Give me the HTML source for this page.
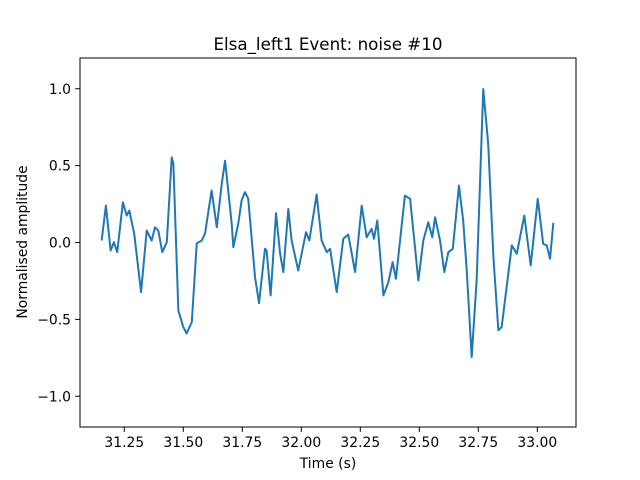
<!DOCTYPE html>
<html><head><meta charset="utf-8"><style>
html,body{margin:0;padding:0;background:#fff;}
svg{display:block;font-family:"DejaVu Sans","Liberation Sans",sans-serif;}
</style></head><body>
<svg id="chart" width="640" height="480" viewBox="0 0 640 480">
<rect width="640" height="480" fill="#fff"/>
<text x="328" y="50" font-size="16.7" text-anchor="middle" fill="#000">Elsa_left1 Event: noise #10</text>
<g id="plot"></g>
<g id="axes"></g>
<text x="328" y="468" font-size="13.9" text-anchor="middle">Time (s)</text>
<text transform="translate(27,242) rotate(-90)" font-size="13.9" text-anchor="middle">Normalised amplitude</text>
</svg>
<script>
const times = [31.154,31.172,31.192,31.206,31.220,31.244,31.260,31.271,31.292,31.321,31.345,31.366,31.380,31.394,31.411,31.430,31.451,31.458,31.479,31.500,31.514,31.536,31.557,31.578,31.592,31.620,31.642,31.663,31.677,31.705,31.712,31.733,31.747,31.761,31.775,31.804,31.821,31.846,31.853,31.870,31.893,31.910,31.924,31.945,31.959,31.987,32.020,32.034,32.065,32.086,32.108,32.122,32.150,32.178,32.199,32.228,32.256,32.277,32.298,32.308,32.322,32.348,32.369,32.387,32.401,32.439,32.461,32.496,32.517,32.538,32.555,32.567,32.588,32.606,32.623,32.642,32.668,32.686,32.701,32.722,32.743,32.771,32.792,32.814,32.835,32.849,32.870,32.892,32.913,32.945,32.972,33.002,33.025,33.040,33.054,33.068];
const amplitudes = [0.013,0.24,-0.052,0.002,-0.063,0.262,0.175,0.208,0.058,-0.323,0.078,0.013,0.099,0.078,-0.063,0.002,0.554,0.513,-0.442,-0.55,-0.591,-0.518,-0.006,0.013,0.058,0.338,0.099,0.383,0.532,0.123,-0.03,0.123,0.273,0.327,0.286,-0.225,-0.394,-0.041,-0.052,-0.344,0.190,-0.071,-0.192,0.218,0.013,-0.182,0.067,0.013,0.312,0.013,-0.063,-0.041,-0.323,0.024,0.052,-0.192,0.240,0.034,0.089,0.024,0.143,-0.344,-0.258,-0.128,-0.236,0.305,0.284,-0.247,0.013,0.132,0.034,0.164,0.013,-0.193,-0.063,-0.041,0.370,0.143,-0.182,-0.745,-0.247,0.998,0.641,-0.095,-0.571,-0.550,-0.290,-0.019,-0.073,0.175,-0.149,0.284,-0.009,-0.019,-0.106,0.128];
const xTicks = [31.25,31.5,31.75,32.0,32.25,32.5,32.75,33.0];
const xTickLabels = ["31.25","31.50","31.75","32.00","32.25","32.50","32.75","33.00"];
const yTicks = [-1.0,-0.5,0.0,0.5,1.0];
const yTickLabels = ["\u22121.0","\u22120.5","0.0","0.5","1.0"];

const L=80,R=576,T=58,B=427;
const xMin=31.0623,xMax=33.164,yMin=-1.2,yMax=1.2;
function xs(t){return L+(t-xMin)/(xMax-xMin)*(R-L);}
function ys(a){return B-(a-yMin)/(yMax-yMin)*(B-T);}
const NS="http://www.w3.org/2000/svg";
const plot=document.getElementById('plot');
const axes=document.getElementById('axes');
let d='';
for(let i=0;i<times.length;i++){d+=(i?'L':'M')+xs(times[i]).toFixed(2)+','+ys(amplitudes[i]).toFixed(2);}
const line=document.createElementNS(NS,'path');
line.setAttribute('d',d);
line.setAttribute('fill','none');
line.setAttribute('stroke','#1f77b4');
line.setAttribute('stroke-width','2');
line.setAttribute('stroke-linejoin','round');


plot.appendChild(line);
const frame=document.createElementNS(NS,'rect');
frame.setAttribute('x',L);frame.setAttribute('y',T);frame.setAttribute('width',R-L);frame.setAttribute('height',B-T);
frame.setAttribute('fill','none');frame.setAttribute('stroke','#000');frame.setAttribute('stroke-width','1');


axes.appendChild(frame);
xTicks.forEach((v,i)=>{
  const x=xs(v);
  const tk=document.createElementNS(NS,'line');
  tk.setAttribute('x1',x);tk.setAttribute('x2',x);tk.setAttribute('y1',B);tk.setAttribute('y2',B+4.9);
  tk.setAttribute('stroke','#000');tk.setAttribute('stroke-width','1');
  
  
  axes.appendChild(tk);
  const tx=document.createElementNS(NS,'text');
  tx.setAttribute('x',x);tx.setAttribute('y',B+20);tx.setAttribute('font-size','13.9');tx.setAttribute('text-anchor','middle');
  tx.textContent=xTickLabels[i];
  
  
  axes.appendChild(tx);
});
yTicks.forEach((v,i)=>{
  const y=ys(v);
  const tk=document.createElementNS(NS,'line');
  tk.setAttribute('x1',L-4.9);tk.setAttribute('x2',L);tk.setAttribute('y1',y);tk.setAttribute('y2',y);
  tk.setAttribute('stroke','#000');tk.setAttribute('stroke-width','1');
  
  
  axes.appendChild(tk);
  const tx=document.createElementNS(NS,'text');
  tx.setAttribute('x',L-9);tx.setAttribute('y',y+5);tx.setAttribute('font-size','13.9');tx.setAttribute('text-anchor','end');
  tx.textContent=yTickLabels[i];
  
  
  axes.appendChild(tx);
});
</script>
</body></html>
